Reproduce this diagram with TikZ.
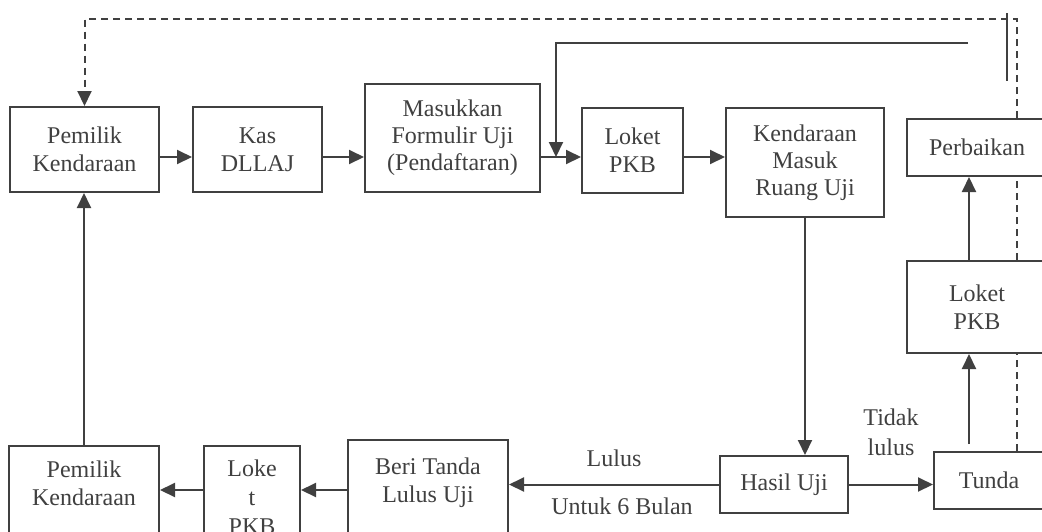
\documentclass[tikz,border=0pt]{standalone}
\usepackage{fontspec}
\setmainfont{Liberation Serif}
\usetikzlibrary{positioning, calc, arrows.meta}
\definecolor{ink}{HTML}{404040}

\begin{document}
\begin{tikzpicture}[x=1pt, y=-1pt, line width=2pt, color=ink,
	font=\fontsize{24}{28}\selectfont,
	box/.style={draw=ink, fill=white, align=center, inner sep=0pt},
	flow/.style={-{Triangle[length=15pt, width=14pt]}},
	loop/.style={dash pattern=on 7pt off 5pt}]
	\useasboundingbox (0,0) rectangle (1042,531);

	% upper row
	\node[box, minimum width=149pt, minimum height=85pt] (own1) at (84.5,149.5) {Pemilik\\Kendaraan};
	\node[box, minimum width=129pt, minimum height=85pt] (kas) at (257.5,149.5) {Kas\\DLLAJ};
	\node[box, minimum width=175pt, minimum height=108pt, font=\fontsize{24}{27}\selectfont] (form) at (452.5,138) {Masukkan\\Formulir Uji\\(Pendaftaran)};
	\node[box, minimum width=101pt, minimum height=85pt] (loket1) at (632.5,150.5) {Loket\\PKB};
	\node[box, minimum width=158pt, minimum height=109pt, font=\fontsize{24}{27}\selectfont] (ruang) at (805,162.5) {Kendaraan\\Masuk\\Ruang Uji};

	% right column
	\node[box, minimum width=140pt, minimum height=57pt] (repair) at (977,147.5) {Perbaikan};
	\node[box, minimum width=140pt, minimum height=92pt] (loket2) at (977,307) {Loket\\PKB};
	\node[box, minimum width=110pt, minimum height=57pt] (tunda) at (989,480.5) {Tunda};

	% lower row
	\node[box, minimum width=128pt, minimum height=57pt] (hasil) at (784,484.5) {Hasil Uji};
	\node[box, minimum width=160pt, minimum height=108pt] (beri) at (428,494) {Beri Tanda\\Lulus Uji\\~};
	\node[box, minimum width=96pt, minimum height=102pt, font=\fontsize{24}{29}\selectfont] (loket3) at (252,497) {Loke\\t\\PKB};
	\node[box, minimum width=150pt, minimum height=102pt] (own2) at (84,497) {Pemilik\\Kendaraan\\~};

	\node (pass) at (614,458) {Lulus};
	\node (period) at (622,506) {Untuk 6 Bulan};
	\node[align=center, font=\fontsize{24}{30}\selectfont] (fail) at (891,432) {Tidak\\lulus};

	\coordinate (row) at (0,157);
	\coordinate (low) at (0,490);
	\coordinate (riser) at (969,444);
	\coordinate (back) at (1017,19);
	\coordinate (retA) at (968,43);
	\coordinate (retB) at (556,43);
	\coordinate (tickT) at (1007,13);
	\coordinate (tickB) at (1007,81);

	\draw[flow] (own1.east |- row) -- (kas.west |- row);
	\draw[flow] (kas.east |- row) -- (form.west |- row);
	\draw[flow] (form.east |- row) -- (loket1.west |- row);
	\draw[flow] (loket1.east |- row) -- (ruang.west |- row);
	\draw[flow] (ruang.south) -- (ruang.south |- hasil.north);
	\draw[flow] (hasil.west) -- (beri.east |- hasil.west);
	\draw[flow] (hasil.east) -- (tunda.west |- hasil.east);
	\draw[flow] (beri.west |- low) -- (loket3.east |- low);
	\draw[flow] (loket3.west |- low) -- (own2.east |- low);
	\draw[flow] (own2.north) -- (own2.north |- own1.south);
	\draw[flow] (riser) -- (riser |- loket2.south);
	\draw[flow] (riser |- loket2.north) -- (riser |- repair.south);

	% return paths
	\draw[loop] (back |- tunda.north) -- (back |- loket2.south);
	\draw[loop] (back |- loket2.north) -- (back |- repair.south);
	\draw[flow, loop] (back |- repair.north) -- (back) -- (back -| own1.north) -- (own1.north);
	\draw[flow] (retA) -- (retB) -- (retB |- row);
	\draw (tickT) -- (tickB);
\end{tikzpicture}
\end{document}
